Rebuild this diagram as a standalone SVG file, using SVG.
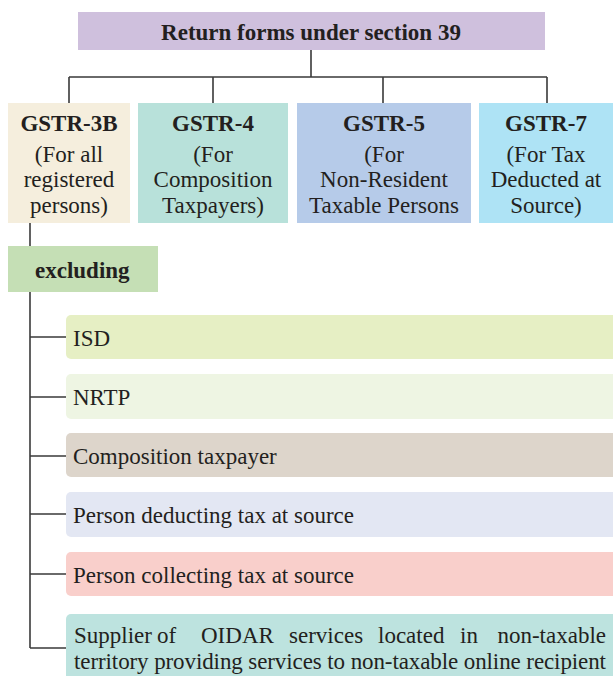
<svg xmlns="http://www.w3.org/2000/svg" width="613" height="676" viewBox="0 0 613 676">
  <style>
    text { font-family: "Liberation Serif", "DejaVu Serif", serif; font-size: 23px; fill: #231f20; }
    .b { font-weight: bold; }
    .c { text-anchor: middle; }
    .wire { fill: none; stroke: #3a3a3a; stroke-width: 1.6; }
  </style>
  <rect width="613" height="676" fill="#ffffff"/>

  <!-- connectors -->
  <g id="connectors" class="wire">
    <path d="M311 50 V77 M69 77 H547 M69 77 V103 M213 77 V103 M383 77 V103 M547 77 V103"/>
    <path d="M30 223 V648"/>
    <path d="M30 337 H66 M30 397 H66 M30 456 H66 M30 514 H66 M30 574 H66 M30 648 H66"/>
  </g>

  <!-- header -->
  <g id="title">
    <rect x="78" y="12" width="467" height="38" fill="#cfc0dd"/>
    <text class="b c" x="311" y="40">Return forms under section 39</text>
  </g>

  <!-- return forms -->
  <g id="gstr3b">
    <rect x="8" y="103" width="122" height="120" fill="#f5eedd"/>
    <text class="b c" x="69" y="131">GSTR-3B</text>
    <text class="c" x="69" y="162">(For all</text>
    <text class="c" x="69" y="187">registered</text>
    <text class="c" x="69" y="213">persons)</text>
  </g>
  <g id="gstr4">
    <rect x="138" y="103" width="150" height="120" fill="#b8e1da"/>
    <text class="b c" x="213" y="131">GSTR-4</text>
    <text class="c" x="213" y="162">(For</text>
    <text class="c" x="213" y="187">Composition</text>
    <text class="c" x="213" y="213">Taxpayers)</text>
  </g>
  <g id="gstr5">
    <rect x="297" y="103" width="174" height="120" fill="#b6cbe9"/>
    <text class="b c" x="384" y="131">GSTR-5</text>
    <text class="c" x="384" y="162">(For</text>
    <text class="c" x="384" y="187">Non-Resident</text>
    <text class="c" x="384" y="213">Taxable Persons</text>
  </g>
  <g id="gstr7">
    <rect x="479" y="103" width="134" height="120" fill="#aee3f5"/>
    <text class="b c" x="546" y="131">GSTR-7</text>
    <text class="c" x="546" y="162">(For Tax</text>
    <text class="c" x="546" y="187">Deducted at</text>
    <text class="c" x="546" y="213">Source)</text>
  </g>

  <!-- exclusions -->
  <g id="excluding">
    <rect x="8" y="246" width="150" height="46" fill="#c5dfb5"/>
    <text class="b" x="35" y="278">excluding</text>
  </g>
  <g id="isd">
    <rect x="66" y="315" width="560" height="44" rx="5" fill="#e6efc4"/>
    <text x="73" y="346">ISD</text>
  </g>
  <g id="nrtp">
    <rect x="66" y="374" width="560" height="45" rx="5" fill="#eef5e3"/>
    <text x="73" y="405">NRTP</text>
  </g>
  <g id="composition">
    <rect x="66" y="433" width="560" height="44" rx="5" fill="#ddd5cb"/>
    <text x="73" y="464">Composition taxpayer</text>
  </g>
  <g id="tds">
    <rect x="66" y="492" width="560" height="45" rx="5" fill="#e3e7f3"/>
    <text x="73" y="523">Person deducting tax at source</text>
  </g>
  <g id="tcs">
    <rect x="66" y="552" width="560" height="44" rx="5" fill="#f9cfcb"/>
    <text x="73" y="583">Person collecting tax at source</text>
  </g>
  <g id="oidar">
    <rect x="66" y="614" width="560" height="80" rx="5" fill="#bde3df"/>
    <text y="643"><tspan x="74">Supplier</tspan><tspan x="157">of</tspan><tspan x="201">OIDAR</tspan><tspan x="289">services</tspan><tspan x="378">located</tspan><tspan x="460">in</tspan><tspan x="606" text-anchor="end">non-taxable</tspan></text>
    <text x="74" y="669" textLength="532" lengthAdjust="spacing">territory providing services to non-taxable online recipient</text>
  </g>
</svg>
